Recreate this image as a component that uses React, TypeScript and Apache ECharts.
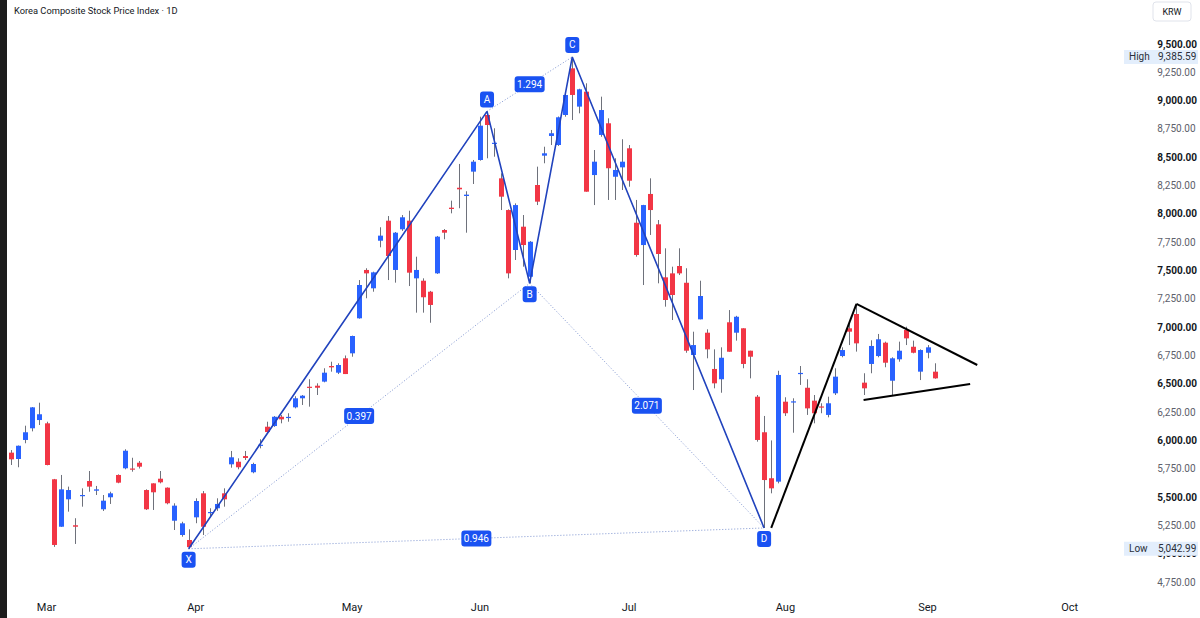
import React, { useEffect, useRef } from "react";
import * as echarts from "echarts";

// ---- Daily OHLC (bar index 0 = last days of Feb) ----
const opens = [
  5892, 5836, 6004, 6107, 6180, 6151, 5657, 5238, 5480, 5251,
  5509, 5642, 5556, 5392, 5498, 5695, 5754, 5752, 5803, 5562,
  5621, 5662, 5583, 5291, 5165, 5121, 5321, 5533, 5360, 5401,
  5533, 5789, 5812, 5862, 5719, 5958, 6121, 6127, 6209, 6200,
  6292, 6372, 6474, 6483, 6519, 6657, 6598, 6725, 6769, 7078,
  7505, 7343, 7763, 7940, 7505, 7864, 7940, 7431, 7410, 7313,
  7475, 7858, 8055, 8231, 8158, 8373, 8476, 8873, 8618, 8314,
  8034, 7681, 7887, 7445, 8255, 8514, 8688, 8608, 8873, 9285,
  8947, 9079, 8343, 8697, 8800, 8328, 8411, 8579, 7922, 7725,
  8176, 7908, 7440, 7475, 7540, 7392, 6754, 7069, 6951, 6631,
  6540, 7043, 6951, 6990, 6792, 6386, 6072, 5666, 5636, 6342,
  6335, 6590, 6465, 6351, 6300, 6225, 6416, 6745, 6990, 7116,
  6510, 6675, 6745, 6863, 6527, 6716, 6975, 6827, 6607, 6774,
  6607,
];
const highs = [
  5915, 5955, 6130, 6295, 6333, 6165, 5660, 5695, 5592, 5313,
  5577, 5730, 5598, 5518, 5547, 5700, 5922, 5847, 5818, 5568,
  5621, 5730, 5585, 5445, 5282, 5215, 5489, 5553, 5401, 5489,
  5577, 5907, 5842, 5907, 5803, 6010, 6165, 6215, 6224, 6240,
  6390, 6401, 6540, 6504, 6637, 6695, 6681, 6750, 6925, 7416,
  7520, 7490, 7882, 7981, 7840, 7990, 8028, 7622, 7431, 7320,
  7805, 7866, 8117, 8441, 8200, 8476, 8858, 8905, 8756, 8358,
  8040, 8093, 7990, 7760, 8417, 8593, 8741, 8860, 9055, 9385.59,
  9105, 9153, 8564, 9035, 8844, 8491, 8659, 8608, 8123, 8080,
  8314, 7946, 7696, 7534, 7696, 7520, 6960, 7410, 6981, 6804,
  6822, 7151, 7100, 6990, 6792, 6401, 6216, 6000, 6615, 6381,
  6372, 6657, 6540, 6401, 6328, 6386, 6637, 6822, 7034, 7205,
  6593, 6884, 6940, 6872, 6734, 6872, 7004, 6881, 6804, 6842,
  6681,
];
const lows = [
  5783, 5763, 5975, 6080, 6136, 5780, 5060, 5236, 5371, 5086,
  5415, 5547, 5518, 5377, 5439, 5622, 5745, 5724, 5752, 5386,
  5386, 5621, 5436, 5209, 5150, 5042.99, 5269, 5165, 5327, 5378,
  5415, 5759, 5745, 5827, 5710, 5930, 6065, 6120, 6151, 6165,
  6283, 6313, 6298, 6401, 6513, 6607, 6586, 6586, 6739, 7075,
  7255, 7313, 7705, 7416, 7393, 7850, 7363, 7128, 7128, 7039,
  7470, 7776, 8005, 8050, 7834, 8264, 8470, 8491, 8505, 8034,
  7431, 7593, 7534, 7387, 8078, 8447, 8608, 8600, 8858, 8829,
  8888, 8196, 8078, 8681, 8123, 8123, 8211, 8240, 7622, 7372,
  7814, 7387, 7181, 7063, 7460, 6774, 6445, 7069, 6725, 6460,
  6421, 6783, 6881, 6637, 6548, 5989, 5227, 5533, 5621, 6216,
  6068, 6490, 6225, 6151, 6240, 6204, 6401, 6734, 6842, 6784,
  6401, 6593, 6734, 6646, 6401, 6695, 6842, 6769, 6533, 6725,
  6545,
];
const closes = [
  5833, 5953, 6072, 6292, 6231, 5783, 5077, 5568, 5562, 5238,
  5518, 5592, 5568, 5468, 5533, 5627, 5909, 5746, 5768, 5392,
  5542, 5630, 5445, 5424, 5268, 5058, 5465, 5238, 5368, 5439,
  5480, 5851, 5763, 5845, 5792, 5962, 6074, 6209, 6186, 6208,
  6372, 6395, 6465, 6465, 6598, 6645, 6666, 6586, 6922, 7372,
  7475, 7484, 7808, 7628, 7834, 7970, 7481, 7505, 7264, 7196,
  7799, 7834, 8043, 8217, 8170, 8461, 8779, 8785, 8628, 8152,
  7475, 8078, 7725, 7754, 8108, 8535, 8712, 8853, 9050, 9050,
  9100, 8196, 8461, 8917, 8403, 8388, 8461, 8293, 7637, 8078,
  8034, 7646, 7240, 7284, 7475, 6792, 6842, 7275, 6804, 6504,
  6730, 6783, 7092, 6675, 6739, 6004, 5650, 5577, 6578, 6240,
  6345, 6596, 6283, 6240, 6295, 6328, 6563, 6798, 6960, 6857,
  6460, 6834, 6893, 6686, 6725, 6792, 6901, 6774, 6798, 6822,
  6548,
];

// ---- Axis ----
const totalSlots = 160; // trading-day slots incl. empty future space
const monthNames = ["Mar", "Apr", "May", "Jun", "Jul", "Aug", "Sep", "Oct"];
const monthStartBars = [5, 26, 48, 66, 87, 109, 129, 149];
const priceMin = 4750;
const priceMax = 9500;
const priceStep = 250;

// ---- XABCD pattern drawing ----
const patternNames = ["X", "A", "B", "C", "D"];
const patternBars = [25, 67, 73, 79, 106];
const patternUseHigh = [false, true, false, true, false];
const ratioPairs = [
  [0, 2],
  [1, 3],
  [2, 4],
  [0, 4],
];
const ratioLabels = ["0.397", "1.294", "2.071", "0.946"];

// ---- Triangle trend lines [bar, price] ----
const trendLines = [
  [
    [107, 5227],
    [119, 7205],
  ],
  [
    [119, 7205],
    [136, 6666],
  ],
  [
    [120, 6357],
    [135, 6498],
  ],
];

const BLUE = "#2962FF";
const RED = "#F23645";
const WICK = "#6e717b";
const PATTERN = "#2143bd";
const LABELBG = "#1a52f2";
const FONT = "Roboto";

const fmt = (v: number) =>
  v.toLocaleString("en-US", { minimumFractionDigits: 2, maximumFractionDigits: 2 });

export default function App() {
  const ref = useRef<HTMLDivElement>(null);

  useEffect(() => {
    if (!ref.current) return;
    const chart = echarts.init(ref.current, null, { renderer: "svg" });

    const candleData = opens.map((o, i) => [i, o, closes[i], lows[i], highs[i]]);
    const patternPoints = patternBars.map((b, k) => [b, patternUseHigh[k] ? highs[b] : lows[b]]);

    const series: any[] = [
      {
        type: "custom",
        z: 1,
        silent: true,
        data: candleData,
        encode: { x: 0, y: [1, 2, 3, 4] },
        renderItem: (params: any, api: any) => {
          const idx = api.value(0);
          const o = api.value(1);
          const c = api.value(2);
          const l = api.value(3);
          const h = api.value(4);
          const pO = api.coord([idx, o]);
          const pC = api.coord([idx, c]);
          const pL = api.coord([idx, l]);
          const pH = api.coord([idx, h]);
          const cx = Math.round(pO[0]);
          const top = Math.min(pO[1], pC[1]);
          const bot = Math.max(pO[1], pC[1]);
          const up = c >= o;
          return {
            type: "group",
            children: [
              {
                type: "line",
                shape: { x1: cx + 0.5, y1: pH[1], x2: cx + 0.5, y2: pL[1] },
                style: { stroke: WICK, lineWidth: 1 },
              },
              {
                type: "rect",
                shape: { x: cx - 2, y: top, width: 5, height: Math.max(bot - top, 1.2) },
                style: { fill: up ? BLUE : RED },
              },
            ],
          };
        },
      },
      {
        type: "line",
        z: 4,
        silent: true,
        symbol: "none",
        data: patternPoints,
        lineStyle: { color: PATTERN, width: 1.6 },
      },
    ];
    ratioPairs.forEach(([a, b]) => {
      series.push({
        type: "line",
        z: 3,
        silent: true,
        symbol: "none",
        data: [patternPoints[a], patternPoints[b]],
        lineStyle: { color: "#7f95d0", width: 1, type: [1, 2] },
      });
    });
    trendLines.forEach((seg) => {
      series.push({
        type: "line",
        z: 4,
        silent: true,
        symbol: "none",
        data: seg,
        lineStyle: { color: "#000000", width: 2 },
      });
    });

    chart.setOption({
      animation: false,
      backgroundColor: "#ffffff",
      grid: { left: 7.45, right: 55.27, top: 44, bottom: 36, containLabel: false },
      xAxis: {
        type: "category",
        data: Array.from({ length: totalSlots }, (_, i) => String(i)),
        boundaryGap: true,
        axisLine: { show: false },
        axisTick: { show: false },
        splitLine: { show: false },
        axisLabel: {
          interval: (idx: number) => monthStartBars.includes(idx),
          formatter: (_v: string, idx: number) => monthNames[monthStartBars.indexOf(idx)] || "",
          margin: 20,
          color: "#131722",
          fontSize: 11,
          fontFamily: FONT,
        },
      },
      yAxis: {
        type: "value",
        position: "right",
        min: priceMin,
        max: priceMax,
        interval: priceStep,
        axisLine: { show: false },
        axisTick: { show: false },
        splitLine: { show: false },
        axisLabel: {
          align: "left",
          margin: 13,
          formatter: (v: number) => (v % 500 === 0 ? `{b|${fmt(v)}}` : `{n|${fmt(v)}}`),
          rich: {
            b: { color: "#131722", fontSize: 10, fontWeight: "bold", fontFamily: FONT },
            n: { color: "#5d606b", fontSize: 10, fontFamily: FONT },
          },
        },
      },
      series,
    });

    const px = (bar: number, v: number) =>
      chart.convertToPixel({ xAxisIndex: 0, yAxisIndex: 0 }, [bar, v]) as number[];

    const txt = (x: number, y: number, text: string, size: number, fill: string, align = "left") => ({
      type: "text",
      x,
      y,
      z: 101,
      style: { text, fill, fontSize: size, fontFamily: FONT, align, verticalAlign: "middle" },
    });

    const graphics: any[] = [];
    // left dark strip
    graphics.push({ type: "rect", shape: { x: 0, y: 0, width: 7, height: 618 }, style: { fill: "#1c1c1c" }, z: 100 });
    // title
    graphics.push(txt(14, 10, "Korea Composite Stock Price Index · 1D", 9.3, "#131722"));
    // KRW box
    graphics.push({
      type: "rect",
      z: 100,
      shape: { x: 1153, y: 2, width: 38, height: 19, r: 3 },
      style: { fill: "#ffffff", stroke: "#e0e3eb", lineWidth: 1 },
    });
    graphics.push(txt(1172, 12, "KRW", 9, "#131722", "center"));

    // High / Low boxes
    const hiVal = Math.max(...highs);
    const loVal = Math.min(...lows);
    [
      ["High", hiVal],
      ["Low", loVal],
    ].forEach(([name, val]) => {
      const y = px(0, val as number)[1];
      graphics.push({
        type: "rect",
        z: 100,
        shape: { x: 1124, y: y - 7, width: 74, height: 14 },
        style: { fill: "#e3eefc" },
      });
      graphics.push(txt(1129, y, name as string, 10, "#2a2e39"));
      graphics.push(txt(1158, y, fmt(val as number), 10, "#2a2e39"));
    });

    // pattern point labels
    patternPoints.forEach((p, k) => {
      const [x, y] = px(p[0], p[1]);
      const cy = patternUseHigh[k] ? y - 12 : y + 11;
      graphics.push({
        type: "rect",
        z: 100,
        shape: { x: x - 7, y: cy - 8, width: 14, height: 16, r: 3 },
        style: { fill: LABELBG },
      });
      graphics.push(txt(x, cy, patternNames[k], 10, "#ffffff", "center"));
    });

    // ratio labels
    ratioPairs.forEach(([a, b], k) => {
      const pa = px(patternPoints[a][0], patternPoints[a][1]);
      const pb = px(patternPoints[b][0], patternPoints[b][1]);
      const cx = (pa[0] + pb[0]) / 2;
      const cy = (pa[1] + pb[1]) / 2;
      graphics.push({
        type: "rect",
        z: 100,
        shape: { x: cx - 15, y: cy - 8, width: 30, height: 16, r: 3 },
        style: { fill: LABELBG },
      });
      graphics.push(txt(cx, cy, ratioLabels[k], 10, "#ffffff", "center"));
    });

    chart.setOption({ graphic: graphics });

    return () => chart.dispose();
  }, []);

  return (
    <div
      ref={ref}
      style={{ position: "fixed", left: 0, top: 0, width: 1200, height: 618, background: "#fff" }}
    />
  );
}
